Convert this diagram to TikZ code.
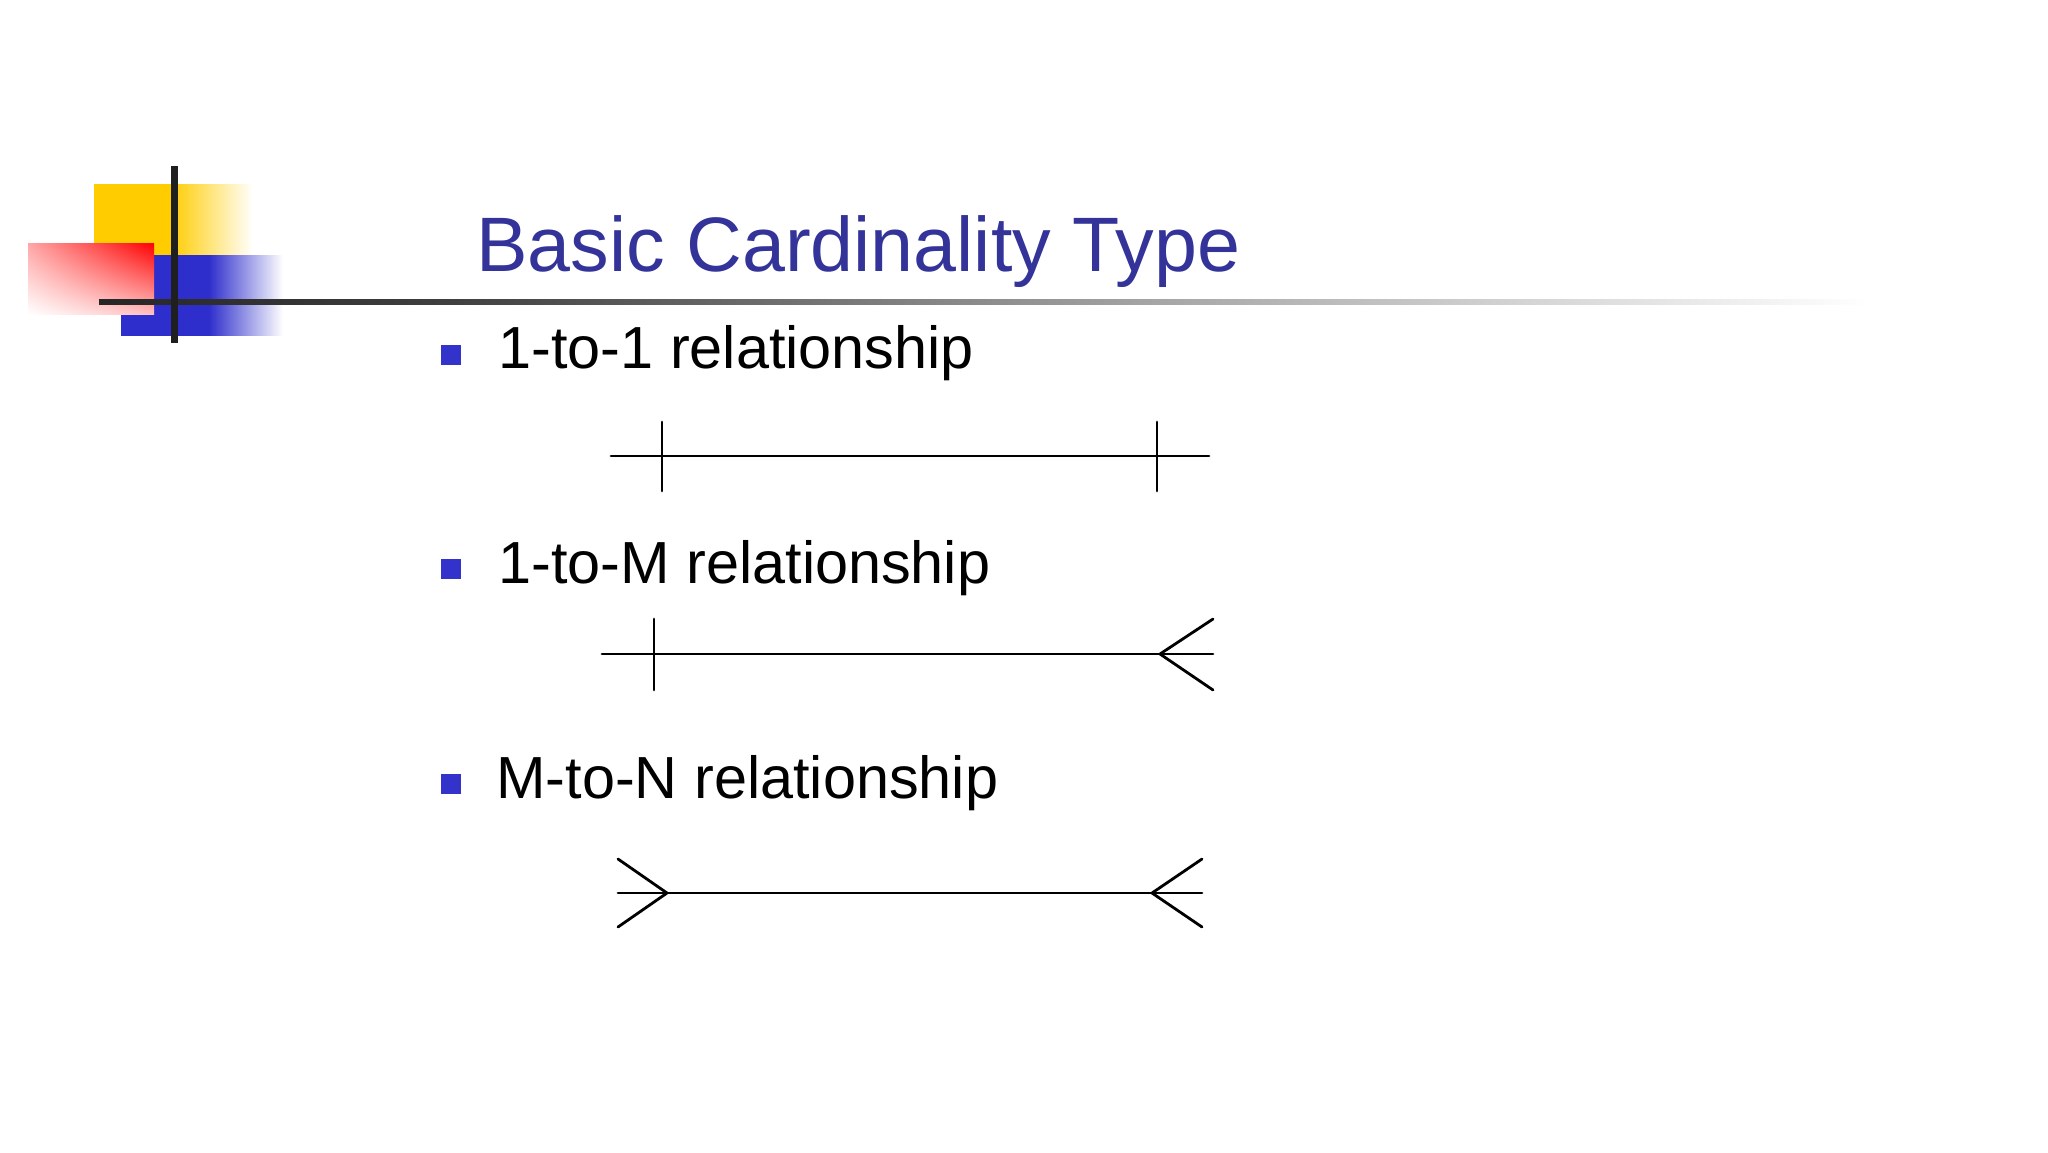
\documentclass[tikz,border=0pt]{standalone}
\usepackage{fontspec}
\setmainfont{Liberation Sans}
\usetikzlibrary{positioning,shadings}

\definecolor{titleblue}{RGB}{51,51,153}
\definecolor{bulletblue}{RGB}{51,51,204}
\definecolor{logoyellow}{RGB}{255,204,0}
\definecolor{logoblue}{RGB}{46,46,204}
\pgfdeclarehorizontalshading{yellowfade}{100bp}{color(0bp)=(logoyellow); color(49bp)=(logoyellow); color(75bp)=(white); color(100bp)=(white)}
\pgfdeclarehorizontalshading{bluefade}{100bp}{color(0bp)=(logoblue); color(52bp)=(logoblue); color(75bp)=(white); color(100bp)=(white)}
\pgfdeclarehorizontalshading{rulefade}{100bp}{color(0bp)=(black!85); color(25bp)=(black!85); color(35bp)=(black!75); color(55bp)=(black!35); color(75bp)=(white); color(100bp)=(white)}

\tikzset{
  relline/.style={line width=1.4pt, line cap=round},
  bulletsq/.style={fill=bulletblue, inner sep=0pt, minimum size=10pt},
  itemtext/.style={anchor=base west, inner sep=0pt, font=\fontsize{29.7}{36}\selectfont},
}

\begin{document}
\begin{tikzpicture}[x=0.5pt,y=0.5pt,yscale=-1,xscale=1]
\useasboundingbox (0,0) rectangle (2048,1152);

%Shape: logo, yellow square
\shade[shading=yellowfade] (94,184) rectangle (253,255);
%Shape: logo, blue square
\shade[shading=bluefade] (121,255) rectangle (283,335);
%Shape: logo, red square
\shade[upper right=red, upper left=red!35, lower right=red!25, lower left=white] (28,243) rectangle (154,314);
%Shape: title rule
\shade[shading=rulefade] (99,299.5) rectangle (1868,304.5);
%Straight Lines: logo bar
\fill[black!88] (170.5,166) rectangle (177.5,343);

% Text Node
\node[anchor=base west, inner sep=0pt, text=titleblue, font=\fontsize{38.6}{46}\selectfont] (title) at (476,271) {Basic Cardinality Type};

% Text Node
\node[bulletsq] (bul1) at (451,355) {};
\node[itemtext] (item1) at (498,368) {1-to-1 relationship};
% Text Node
\node[bulletsq] (bul2) at (451,569) {};
\node[itemtext] (item2) at (498,583) {1-to-M relationship};
% Text Node
\node[bulletsq] (bul3) at (451,784) {};
\node[itemtext] (item3) at (496,798) {M-to-N relationship};

%Straight Lines: 1-to-1
\coordinate (oneA) at (611,456);
\coordinate (oneB) at (1209,456);
\coordinate (oneTa) at (662,456);
\coordinate (oneTb) at (1157,456);
\draw[relline] (oneA) -- (oneB);
\draw[relline] (oneTa) ++(0,-34) -- ++(0,69);
\draw[relline] (oneTb) ++(0,-34) -- ++(0,69);

%Straight Lines: 1-to-M
\coordinate (manyA) at (602,654);
\coordinate (manyB) at (1213,654);
\coordinate (manyT) at (654,654);
\coordinate (manyC) at (1160,654);
\draw[relline] (manyA) -- (manyB);
\draw[relline] (manyT) ++(0,-35) -- ++(0,71);
\draw[relline] (manyB) ++(0,-35) -- (manyC) -- ++(53,36);

%Straight Lines: M-to-N
\coordinate (mnA) at (618,893);
\coordinate (mnB) at (1202,893);
\coordinate (mnCa) at (667,893);
\coordinate (mnCb) at (1152,893);
\draw[relline] (mnA) -- (mnB);
\draw[relline] (mnA) ++(0,-34) -- (mnCa) -- ++(-49,34);
\draw[relline] (mnB) ++(0,-34) -- (mnCb) -- ++(50,34);

\end{tikzpicture}
\end{document}
